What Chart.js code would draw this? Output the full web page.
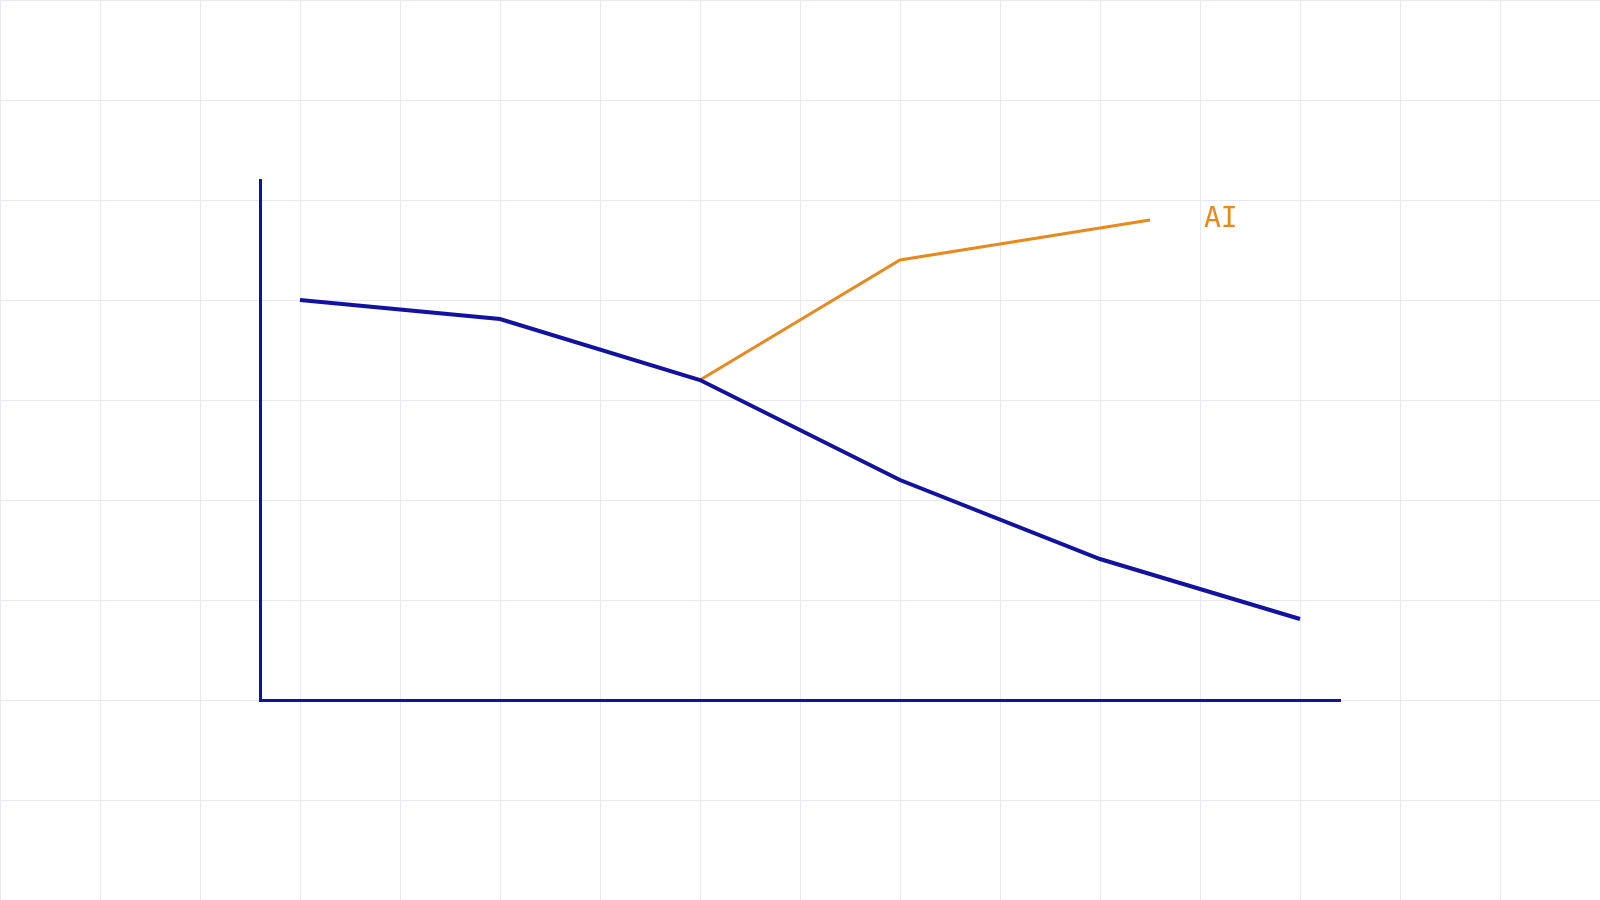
<!DOCTYPE html>
<html><head><meta charset="utf-8">
<script src="https://cdn.jsdelivr.net/npm/chart.js@4"></script>
<style>
html,body{margin:0;padding:0;width:1600px;height:900px;overflow:hidden;background-color:#fff;
background-image:linear-gradient(to right,#e6e8f6 1px,transparent 1px),linear-gradient(to bottom,#e6e8f6 1px,transparent 1px);
background-size:100px 100px;}
#c{position:absolute;left:0;top:0}
</style></head><body>
<canvas id="c" width="1600" height="900"></canvas>
<script>
const xPositions=[0,1,2,3,4,5];
const humanValues=[4.0,3.81,3.2,2.2,1.41,0.81];
const aiX=[2,3,4.25];
const aiValues=[3.2,4.4,4.8];
const aiLabel="AI";
const blue="#1212a0", orange="#e8891e";
const labelPlugin={id:'lbl',afterDatasetsDraw(ch){const c=ch.ctx,x=ch.scales.x,y=ch.scales.y;
c.save();c.fillStyle=orange;c.font='28px "DejaVu Sans Mono"';c.textBaseline='middle';c.textAlign='left';
c.fillText(aiLabel,x.getPixelForValue(4.52),y.getPixelForValue(aiValues[2]));c.restore();}};
new Chart(document.getElementById('c'),{type:'line',
data:{datasets:[
{data:xPositions.map((v,i)=>({x:v,y:humanValues[i]})),borderColor:blue,borderWidth:4,pointRadius:0,tension:0},
{data:aiX.map((v,i)=>({x:v,y:aiValues[i]})),borderColor:orange,borderWidth:3,pointRadius:0,tension:0}]},
options:{responsive:false,animation:false,layout:{padding:{left:252,right:260,top:180,bottom:192}},
plugins:{legend:{display:false},tooltip:{enabled:false}},
scales:{x:{type:'linear',min:-0.2,max:5.2,ticks:{display:false},grid:{display:false},border:{color:blue,width:3}},
y:{min:0,max:5.2,ticks:{display:false},grid:{display:false},border:{color:blue,width:3}}}},
plugins:[labelPlugin]});
</script></body></html>
